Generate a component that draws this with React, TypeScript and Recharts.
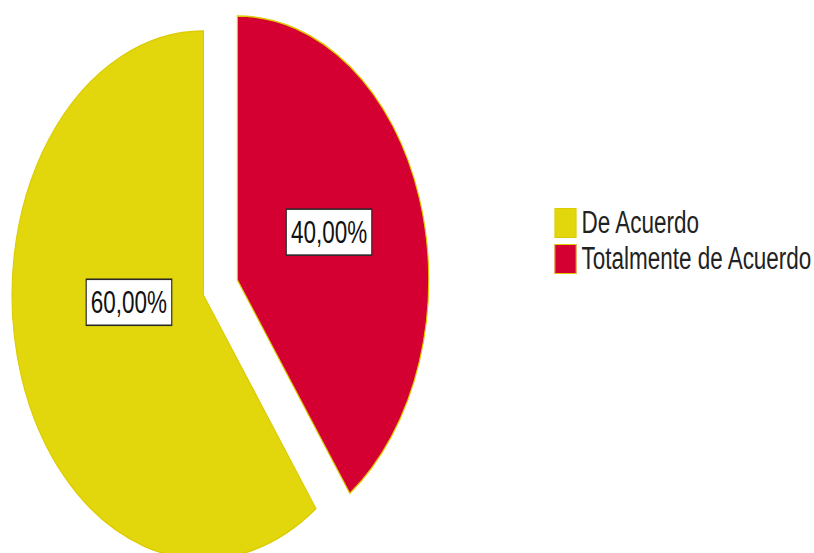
import React from 'react';
import { PieChart, Pie, Cell, Legend } from 'recharts';

const categories = ['De Acuerdo', 'Totalmente de Acuerdo'];
const percentages = [60, 40];
const colors = ['#E2D60C', '#D50032'];
const strokeColor = '#DCCB00';

const SCALE_X = 0.725;
const WIDTH = 814;
const HEIGHT = 553;
const INNER_W = Math.round(WIDTH / SCALE_X);
const BASE_CX = 304;
const BASE_CY = 287.5;
const RADIUS = 264;
const EXPLODE = 24.6;
const START = 90;
const END = 450;
const LABEL_LAYOUT = [
  { angleShift: -14, radiusFactor: 0.39 },
  { angleShift: 2.7, radiusFactor: 0.512 },
];
const FONT = '"Liberation Sans", Arial, sans-serif';

const data = categories.map((name, i) => ({ name, value: percentages[i] }));
const total = percentages.reduce((a, b) => a + b, 0);
const RAD = Math.PI / 180;

let acc = 0;
const mids = data.map((d) => {
  const s = START + (acc / total) * (END - START);
  acc += d.value;
  const e = START + (acc / total) * (END - START);
  return (s + e) / 2;
});
const centers = mids.map((m) => ({
  cx: BASE_CX + EXPLODE * Math.cos(m * RAD),
  cy: BASE_CY - EXPLODE * Math.sin(m * RAD),
}));

const makeLabel = (pieIndex: number) => (props: any) => {
  if (props.index !== pieIndex) return <g />;
  const { cx, cy, midAngle, outerRadius } = props;
  const lay = LABEL_LAYOUT[pieIndex];
  const a = (midAngle + lay.angleShift) * RAD;
  const r = outerRadius * lay.radiusFactor;
  const x = cx + r * Math.cos(a);
  const y = cy - r * Math.sin(a);
  const txt = ((percentages[pieIndex] / total) * 100).toFixed(2).replace('.', ',') + '%';
  const w = 118;
  const h = 46;
  return (
    <g>
      <rect x={x - w / 2} y={y - h / 2} width={w} height={h} fill="#ffffff" stroke="#2a2a2a" strokeWidth={1.6} />
      <text x={x} y={y + 11} textAnchor="middle" fontFamily={FONT} fontSize={31} fill="#111">
        {txt}
      </text>
    </g>
  );
};

const LegendContent = () => (
  <div style={{ fontFamily: FONT, fontSize: 31, color: '#222' }}>
    {categories.map((c, i) => (
      <div key={c} style={{ display: 'flex', alignItems: 'flex-start', height: 36 }}>
        <div
          style={{
            width: 30,
            height: 30,
            flexShrink: 0,
            boxSizing: 'border-box',
            background: colors[i],
            border: `1.5px solid ${strokeColor}`,
          }}
        />
        <div style={{ marginLeft: 7, lineHeight: '30px', whiteSpace: 'nowrap' }}>{c}</div>
      </div>
    ))}
  </div>
);

export default function App() {
  return (
    <div
      style={{
        position: 'fixed',
        left: 0,
        top: 0,
        width: WIDTH,
        height: HEIGHT,
        overflow: 'hidden',
        background: '#fff',
      }}
    >
      <div style={{ width: INNER_W, height: HEIGHT, transform: `scaleX(${SCALE_X})`, transformOrigin: '0 0' }}>
        <PieChart width={INNER_W} height={HEIGHT} margin={{ top: 0, right: 0, bottom: 0, left: 0 }}>
          {data.map((_, pi) => (
            <Pie
              key={pi}
              data={data}
              dataKey="value"
              nameKey="name"
              cx={centers[pi].cx}
              cy={centers[pi].cy}
              innerRadius={0}
              outerRadius={RADIUS}
              startAngle={START}
              endAngle={END}
              isAnimationActive={false}
              labelLine={false}
              label={makeLabel(pi)}
            >
              {data.map((d, ci) => (
                <Cell
                  key={d.name}
                  fill={ci === pi ? colors[ci] : 'transparent'}
                  stroke={ci === pi ? strokeColor : 'none'}
                  strokeWidth={ci === pi ? 1.5 : 0}
                />
              ))}
            </Pie>
          ))}
          <Legend
            layout="vertical"
            align="right"
            verticalAlign="top"
            content={<LegendContent />}
            wrapperStyle={{ left: 765, top: 208, right: 'auto', width: 400 }}
          />
        </PieChart>
      </div>
    </div>
  );
}
